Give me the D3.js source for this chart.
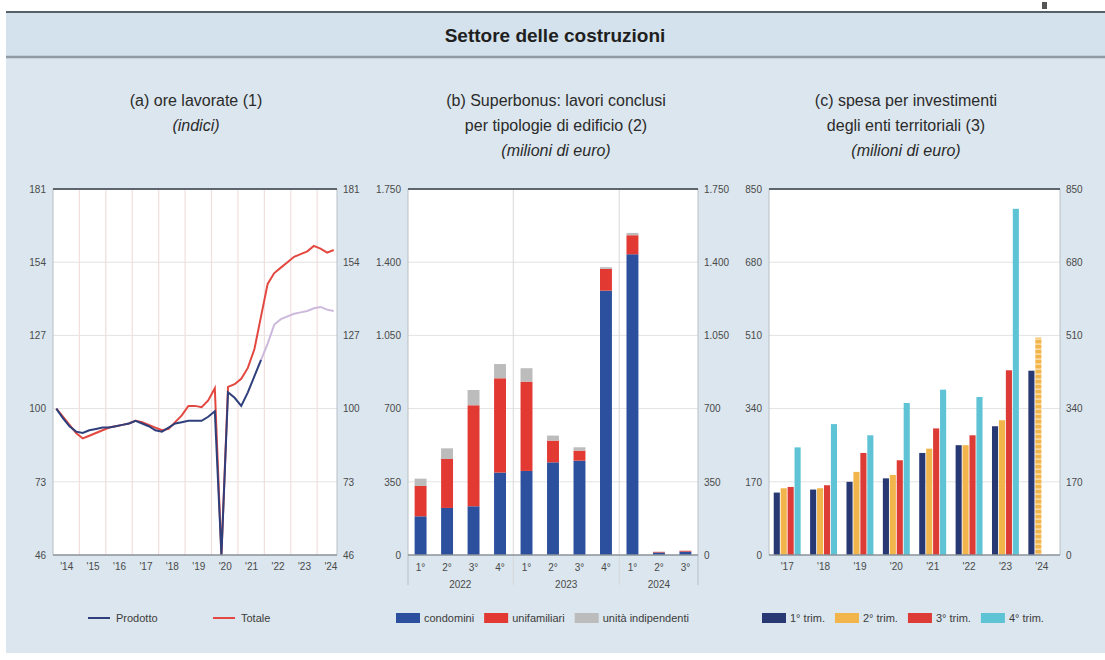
<!DOCTYPE html>
<html>
<head>
<meta charset="utf-8">
<script src="https://cdn.jsdelivr.net/npm/d3@7"></script>
<style>
  html, body { margin: 0; padding: 0; background: #ffffff; }
  svg { display: block; font-family: "Liberation Sans", Arial, sans-serif; }
  .tick text { fill: #4a4a4a; font-size: 10px; }
</style>
</head>
<body>
<svg id="chart" width="1105" height="660"></svg>
<script>
// ---- (a) ore lavorate: quarterly indices, 2014Q1 .. 2024Q3 ----
const yearsA = ["'14","'15","'16","'17","'18","'19","'20","'21","'22","'23","'24"];
const ticksA = [46, 73, 100, 127, 154, 181];
const totale = [
  100, 97, 94, 91,
  89, 90, 91, 92,
  93, 93.5, 94, 94.5,
  95.5, 95, 94, 93,
  92, 92.5, 95, 97.5,
  101, 101, 100.5, 103,
  107.5, 46, 108, 109,
  111, 115, 122, 134,
  146, 150, 152, 154,
  156, 157, 158, 160,
  159, 157.5, 158.5
];
const prodotto = [
  100, 96.5, 93.5, 91.5,
  91, 92, 92.5, 93,
  93, 93.5, 94, 94.5,
  95.5, 94.5, 93.5, 92,
  91.5, 93, 94.5, 95,
  95.5, 95.5, 95.5, 97,
  99, 46, 106, 104,
  101, 106, 112, 118,
  124, 131, 133, 134,
  135, 135.5, 136, 137,
  137.5, 136.5, 136
];
// index from which the second series is drawn in its lighter tone
const prodottoLightFrom = 31;

// ---- (b) Superbonus: lavori conclusi per tipologia di edificio ----
const quartersB = ["1°","2°","3°","4°","1°","2°","3°","4°","1°","2°","3°"];
const yearsB = ["2022","2023","2024"];
const condomini    = [185, 225, 233, 394, 402, 443, 451, 1264, 1438, 12, 16];
const unifamiliari = [145, 234, 483, 451, 427, 104, 48, 104, 91, 3, 4];
const indipendenti = [35, 51, 73, 68, 64, 24, 16, 8, 11, 1, 1];
const ticksB = [0, 350, 700, 1050, 1400, 1750];

// ---- (c) spesa per investimenti degli enti territoriali ----
const yearsC = ["'17","'18","'19","'20","'21","'22","'23","'24"];
const trim1 = [145, 152, 170, 178, 237, 255, 299, 428];
const trim2 = [155, 155, 193, 186, 247, 255, 313, 505];
const trim3 = [158, 162, 237, 220, 294, 278, 429, null];
const trim4 = [250, 304, 278, 353, 384, 367, 804, null];
const ticksC = [0, 170, 340, 510, 680, 850];

const it = d3.formatLocale({decimal: ",", thousands: ".", grouping: [3], currency: ["€", ""]});
const fmt = it.format(",d");

const svg = d3.select("#chart");
const defs = svg.append("defs");

// striped fill for the latest (provisional) bar
const pat = defs.append("pattern").attr("id", "stripes")
  .attr("width", 6).attr("height", 5).attr("patternUnits", "userSpaceOnUse");
pat.append("rect").attr("width", 6).attr("height", 5).attr("fill", "#f2b54b");
pat.append("rect").attr("y", 3.5).attr("width", 6).attr("height", 1.2).attr("fill", "#fbe7bf");

// ---- page background and title band ----
svg.append("rect").attr("x", 0).attr("y", 0).attr("width", 1105).attr("height", 660).attr("fill", "#ffffff");
svg.append("rect").attr("x", 6).attr("y", 12).attr("width", 1099).attr("height", 641).attr("fill", "#dbe6ee");
svg.append("rect").attr("x", 6).attr("y", 12).attr("width", 1099).attr("height", 45).attr("fill", "#d3e2ed");
svg.append("line").attr("x1", 6).attr("x2", 1105).attr("y1", 12).attr("y2", 12).attr("stroke", "#55606a").attr("stroke-width", 2);
svg.append("line").attr("x1", 6).attr("x2", 1105).attr("y1", 57).attr("y2", 57).attr("stroke", "#8e9aa4").attr("stroke-width", 2.5);
svg.append("rect").attr("x", 1042).attr("y", 2).attr("width", 5).attr("height", 7).attr("fill", "#555");
svg.append("text").attr("x", 555).attr("y", 42).attr("text-anchor", "middle")
  .attr("font-size", 19).attr("font-weight", "bold").attr("fill", "#1f1f1f")
  .text("Settore delle costruzioni");

function panelTitle(cx, lines) {
  lines.forEach((l, i) => {
    svg.append("text").attr("x", cx).attr("y", 106 + i * 25).attr("text-anchor", "middle")
      .attr("font-size", 16).attr("fill", "#2b2b2b")
      .attr("font-style", l.italic ? "italic" : "normal").text(l.t);
  });
}
panelTitle(196, [{t: "(a) ore lavorate (1)"}, {t: "(indici)", italic: true}]);
panelTitle(556, [{t: "(b) Superbonus: lavori conclusi"}, {t: "per tipologie di edificio (2)"}, {t: "(milioni di euro)", italic: true}]);
panelTitle(906, [{t: "(c) spesa per investimenti"}, {t: "degli enti territoriali (3)"}, {t: "(milioni di euro)", italic: true}]);

const TOP = 189, BOT = 555;

function frame(x0, x1) {
  svg.append("rect").attr("x", x0).attr("y", TOP).attr("width", x1 - x0).attr("height", BOT - TOP).attr("fill", "#ffffff");
}
function frameBorder(x0, x1) {
  svg.append("line").attr("x1", x0).attr("x2", x0).attr("y1", TOP).attr("y2", BOT).attr("stroke", "#b9c0c6");
  svg.append("line").attr("x1", x1).attr("x2", x1).attr("y1", TOP).attr("y2", BOT).attr("stroke", "#b9c0c6");
  svg.append("line").attr("x1", x0).attr("x2", x1).attr("y1", TOP).attr("y2", TOP).attr("stroke", "#5d666e").attr("stroke-width", 2);
  svg.append("line").attr("x1", x0).attr("x2", x1).attr("y1", BOT).attr("y2", BOT).attr("stroke", "#8a9299").attr("stroke-width", 1.5);
}
function yAxes(y, x0, x1, ticks, f) {
  const l = svg.append("g").attr("transform", `translate(${x0},0)`)
    .call(d3.axisLeft(y).tickValues(ticks).tickSize(0).tickPadding(7).tickFormat(f));
  l.select(".domain").remove();
  const r = svg.append("g").attr("transform", `translate(${x1},0)`)
    .call(d3.axisRight(y).tickValues(ticks).tickSize(0).tickPadding(6).tickFormat(f));
  r.select(".domain").remove();
  // horizontal gridlines
  svg.append("g").selectAll("line").data(ticks.slice(1, -1)).join("line")
    .attr("x1", x0).attr("x2", x1).attr("y1", d => y(d)).attr("y2", d => y(d))
    .attr("stroke", "#e3e3e3").attr("stroke-width", 1);
}

// ================= panel (a) =================
const xa0 = 53, xa1 = 337;
frame(xa0, xa1);
const xA = d3.scaleLinear().domain([2014, 2024.75]).range([xa0, xa1]);
const yA = d3.scaleLinear().domain([46, 181]).range([BOT, TOP]);
yAxes(yA, xa0, xa1, ticksA, d3.format("d"));
// yearly separators
svg.append("g").selectAll("line").data(d3.range(2015, 2025)).join("line")
  .attr("x1", d => xA(d)).attr("x2", d => xA(d)).attr("y1", TOP).attr("y2", BOT)
  .attr("stroke", "#f1dede").attr("stroke-width", 1.2);
svg.append("g").attr("transform", `translate(0,${BOT})`)
  .call(d3.axisBottom(xA).tickValues(d3.range(2014.5, 2025, 1)).tickSize(0).tickPadding(8)
    .tickFormat((d, i) => yearsA[i]))
  .select(".domain").remove();
const qx = i => xA(2014 + i / 4 + 0.125);
const lineA = d3.line().x(d => qx(d.i)).y(d => yA(d.v));
const totPts = totale.map((v, i) => ({i, v}));
const prodPts = prodotto.map((v, i) => ({i, v}));
svg.append("path").datum(prodPts.slice(prodottoLightFrom)).attr("d", lineA)
  .attr("fill", "none").attr("stroke", "#cdb9dc").attr("stroke-width", 2);
svg.append("path").datum(totPts).attr("d", lineA)
  .attr("fill", "none").attr("stroke", "#e2483f").attr("stroke-width", 2);
svg.append("path").datum(prodPts.slice(0, prodottoLightFrom + 1)).attr("d", lineA)
  .attr("fill", "none").attr("stroke", "#2f3f7c").attr("stroke-width", 2);
frameBorder(xa0, xa1);

// ================= panel (b) =================
const xb0 = 408, xb1 = 698;
frame(xb0, xb1);
const yB = d3.scaleLinear().domain([0, 1750]).range([BOT, TOP]);
yAxes(yB, xb0, xb1, ticksB, fmt);
const xB = d3.scaleBand().domain(d3.range(quartersB.length)).range([xb0, xb1]).paddingInner(0.55).paddingOuter(0.25);
// year separators
const sepB = [4, 8].map(i => xB(i) - xB.step() * xB.paddingInner() / 2);
svg.append("g").selectAll("line").data(sepB).join("line")
  .attr("x1", d => d).attr("x2", d => d).attr("y1", TOP).attr("y2", BOT + 30)
  .attr("stroke", "#d8d8d8").attr("stroke-width", 1);
[xb0, xb1].forEach(x => svg.append("line").attr("x1", x).attr("x2", x).attr("y1", BOT).attr("y2", BOT + 30).attr("stroke", "#b9c0c6"));
const rowsB = quartersB.map((q, i) => ({i, condomini: condomini[i], unifamiliari: unifamiliari[i], indipendenti: indipendenti[i]}));
const keysB = ["condomini", "unifamiliari", "indipendenti"];
const colB = {condomini: "#2c4f9e", unifamiliari: "#e23a33", indipendenti: "#bcbcbc"};
const stackB = d3.stack().keys(keysB)(rowsB);
svg.append("g").selectAll("g").data(stackB).join("g").attr("fill", d => colB[d.key])
  .selectAll("rect").data(d => d).join("rect")
  .attr("x", d => xB(d.data.i)).attr("width", xB.bandwidth())
  .attr("y", d => yB(d[1])).attr("height", d => yB(d[0]) - yB(d[1]));
svg.append("g").attr("transform", `translate(0,${BOT})`)
  .call(d3.axisBottom(xB).tickSize(0).tickPadding(9).tickFormat(i => quartersB[i]))
  .select(".domain").remove();
const yearCentersB = [[0, 3], [4, 7], [8, 10]].map(([a, b]) => (xB(a) + xB(b) + xB.bandwidth()) / 2);
svg.append("g").selectAll("text").data(yearsB).join("text")
  .attr("x", (d, i) => yearCentersB[i]).attr("y", 588).attr("text-anchor", "middle")
  .attr("font-size", 10).attr("fill", "#4a4a4a").text(d => d);
frameBorder(xb0, xb1);

// ================= panel (c) =================
const xc0 = 769, xc1 = 1060;
frame(xc0, xc1);
const yC = d3.scaleLinear().domain([0, 850]).range([BOT, TOP]);
yAxes(yC, xc0, xc1, ticksC, fmt);
const xC = d3.scaleBand().domain(yearsC).range([xc0, xc1]).paddingInner(0.26).paddingOuter(0.13);
const seriesC = [
  {key: "1° trim.", vals: trim1, color: "#283872"},
  {key: "2° trim.", vals: trim2, color: "#f2b54b"},
  {key: "3° trim.", vals: trim3, color: "#dc3b36"},
  {key: "4° trim.", vals: trim4, color: "#5ec3d4"}
];
const xCi = d3.scaleBand().domain(d3.range(4)).range([0, xC.bandwidth()]).paddingInner(0.12);
seriesC.forEach((s, si) => {
  svg.append("g").selectAll("rect")
    .data(s.vals.map((v, i) => ({y: yearsC[i], v, last: i === yearsC.length - 1})).filter(d => d.v != null))
    .join("rect")
    .attr("x", d => xC(d.y) + xCi(si)).attr("width", xCi.bandwidth())
    .attr("y", d => yC(d.v)).attr("height", d => BOT - yC(d.v))
    .attr("fill", d => (si === 1 && d.last) ? "url(#stripes)" : s.color);
});
svg.append("g").attr("transform", `translate(0,${BOT})`)
  .call(d3.axisBottom(xC).tickSize(0).tickPadding(8))
  .select(".domain").remove();
frameBorder(xc0, xc1);

// ================= legends =================
const LY = 618;
function lineKey(x, color, label) {
  svg.append("line").attr("x1", x).attr("x2", x + 22).attr("y1", LY).attr("y2", LY)
    .attr("stroke", color).attr("stroke-width", 2);
  svg.append("text").attr("x", x + 28).attr("y", LY + 4).attr("font-size", 11).attr("fill", "#3c3c3c").text(label);
}
lineKey(88, "#2f3f7c", "Prodotto");
lineKey(213, "#e2483f", "Totale");

function boxKeys(items, x0) {
  let x = x0;
  items.forEach(it => {
    svg.append("rect").attr("x", x).attr("y", LY - 5).attr("width", 24).attr("height", 10).attr("fill", it.color);
    const t = svg.append("text").attr("x", x + 28).attr("y", LY + 4).attr("font-size", 11)
      .attr("fill", "#3c3c3c").text(it.label);
    x += 28 + t.node().getComputedTextLength() + 10;
  });
}
boxKeys(keysB.map(k => ({label: k === "indipendenti" ? "unità indipendenti" : k, color: colB[k]})), 396);
boxKeys(seriesC.map(s => ({label: s.key, color: s.color})), 762);
</script>
</body>
</html>
